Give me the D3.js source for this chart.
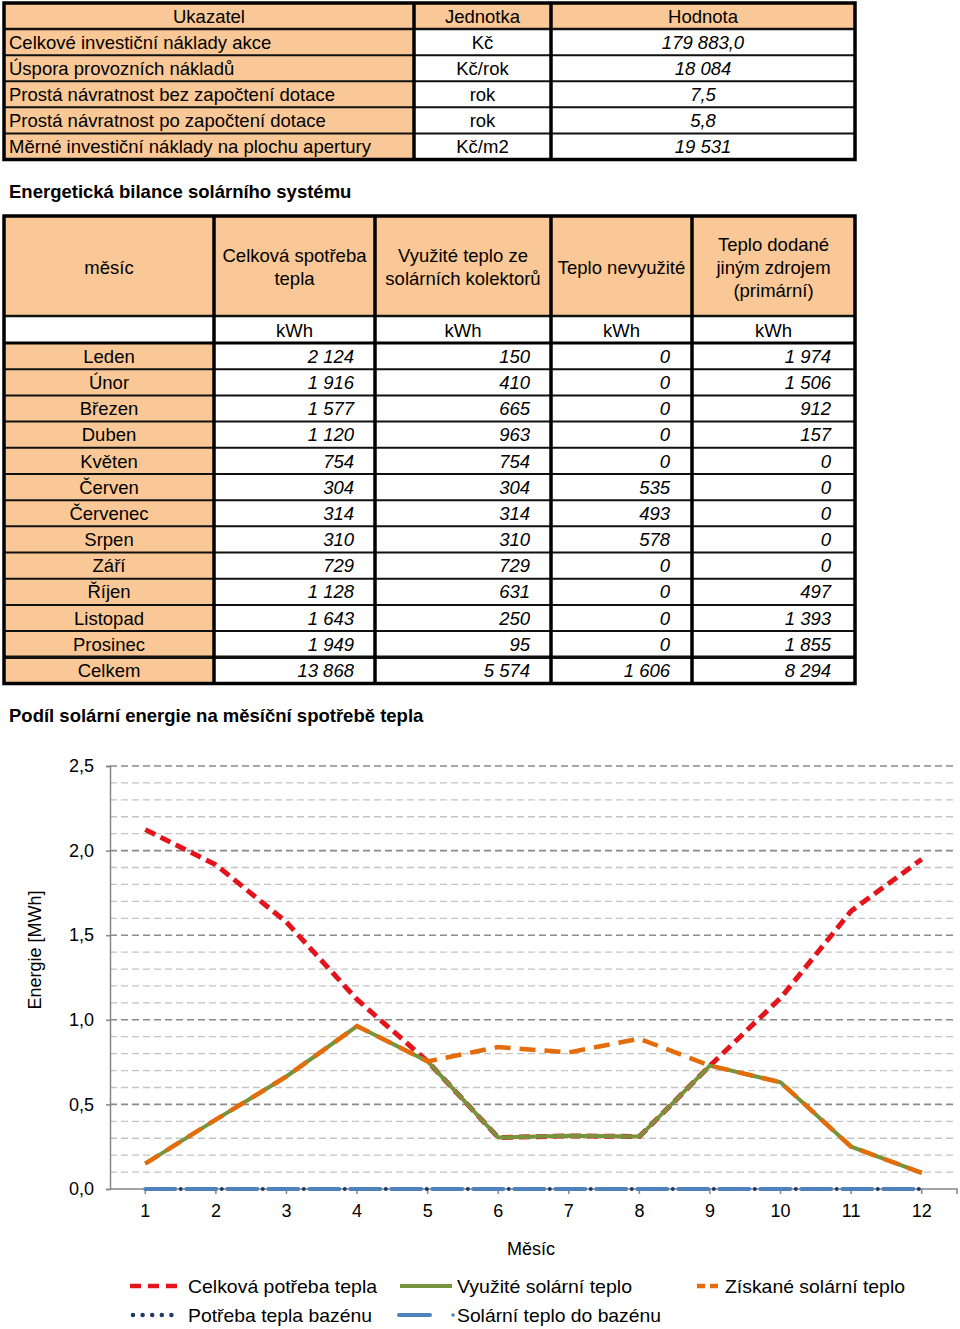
<!DOCTYPE html>
<html><head><meta charset="utf-8">
<script src="https://cdn.jsdelivr.net/npm/d3@7"></script>
<style>
body{margin:0;background:#fff}
svg{display:block}
text{font-family:"Liberation Sans",Arial,Helvetica,sans-serif;fill:#000}
</style>
</head><body>
<svg id="c" width="960" height="1329"></svg>
<script>
// ---------- DATA ----------
const indicatorLabels = ["Celkové investiční náklady akce","Úspora provozních nákladů","Prostá návratnost bez započtení dotace","Prostá návratnost po započtení dotace","Měrné investiční náklady na plochu apertury"];
const indicatorUnits = ["Kč","Kč/rok","rok","rok","Kč/m2"];
const indicatorValues = ["179 883,0","18 084","7,5","5,8","19 531"];
const table1Headers = ["Ukazatel","Jednotka","Hodnota"];

const monthNames = ["Leden","Únor","Březen","Duben","Květen","Červen","Červenec","Srpen","Září","Říjen","Listopad","Prosinec"];
const monthNumbers = [1,2,3,4,5,6,7,8,9,10,11,12];
const table2Headers = [["měsíc"],["Celková spotřeba","tepla"],["Využité teplo ze","solárních kolektorů"],["Teplo nevyužité"],["Teplo dodané","jiným zdrojem","(primární)"]];
const table2Units = ["","kWh","kWh","kWh","kWh"];
const totalConsumption = [2124,1916,1577,1120,754,304,314,310,729,1128,1643,1949];
const usedSolar = [150,410,665,963,754,304,314,310,729,631,250,95];
const unusedHeat = [0,0,0,0,0,535,493,578,0,0,0,0];
const otherSource = [1974,1506,912,157,0,0,0,0,0,497,1393,1855];
const totalsLabel = "Celkem";
const totals = [13868,5574,1606,8294];

// chart series (kWh)
const gainedSolar = [150,410,665,963,754,839,807,888,729,631,250,95];
const poolDemand = [0,0,0,0,0,0,0,0,0,0,0,0];
const poolSolar = [0,0,0,0,0,0,0,0,0,0,0,0];
const yTicks = [0,0.5,1.0,1.5,2.0,2.5];
const seriesNames = ["Celková potřeba tepla","Využité solární teplo","Získané solární teplo","Potřeba tepla bazénu","Solární teplo do bazénu"];

const title2 = "Energetická bilance solárního systému";
const title3 = "Podíl solární energie na měsíční spotřebě tepla";
const xTitle = "Měsíc";
const yTitle = "Energie [MWh]";

// ---------- HELPERS ----------
const cz = d3.formatLocale({decimal:",", thousands:" ", grouping:[3], currency:["","Kč"]});
const fmtInt = cz.format(",d");
const fmtDec = cz.format(",.1f");
const PEACH = "#FAC896";
const svg = d3.select("#c");
const FS = 18.5;

// ---------- TABLE 1 ----------
{
  const cols = [4,414,551,855];
  const ry = d3.scaleLinear().domain([0,6]).range([3,159.5]);
  const g = svg.append("g");
  d3.range(6).forEach(r=>{
    for(let c=0;c<3;c++){
      g.append("rect").attr("x",cols[c]).attr("y",ry(r)).attr("width",cols[c+1]-cols[c]).attr("height",ry(r+1)-ry(r))
        .attr("fill",(r===0||c===0)?PEACH:"#fff");
    }
  });
  table1Headers.forEach((h,c)=>{
    g.append("text").attr("x",(cols[c]+cols[c+1])/2).attr("y",(ry(0)+ry(1))/2).attr("dy","0.36em")
      .attr("text-anchor","middle").style("font-size",FS+"px").text(h);
  });
  indicatorLabels.forEach((t,i)=>{
    const cy=(ry(i+1)+ry(i+2))/2;
    g.append("text").attr("x",9).attr("y",cy).attr("dy","0.36em").style("font-size",FS+"px").text(t);
    g.append("text").attr("x",(cols[1]+cols[2])/2).attr("y",cy).attr("dy","0.36em").attr("text-anchor","middle").style("font-size",FS+"px").text(indicatorUnits[i]);
    g.append("text").attr("x",(cols[2]+cols[3])/2).attr("y",cy).attr("dy","0.36em").attr("text-anchor","middle").style("font-size",FS+"px").style("font-style","italic").text(indicatorValues[i]);
  });
  d3.range(1,6).forEach(r=>{
    g.append("line").attr("x1",cols[0]).attr("x2",cols[3]).attr("y1",ry(r)).attr("y2",ry(r)).attr("stroke","#111").attr("stroke-width",r===1?2.5:2);
  });
  cols.slice(1,3).forEach(x=>{
    g.append("line").attr("x1",x).attr("x2",x).attr("y1",ry(0)).attr("y2",ry(6)).attr("stroke","#000").attr("stroke-width",3.5);
  });
  g.append("rect").attr("x",cols[0]).attr("y",ry(0)).attr("width",cols[3]-cols[0]).attr("height",ry(6)-ry(0))
    .attr("fill","none").attr("stroke","#000").attr("stroke-width",3.5);
}

// ---------- TITLE 2 ----------
svg.append("text").attr("x",9).attr("y",191).attr("dy","0.36em").style("font-size","18.5px").style("font-weight","bold").text(title2);

// ---------- TABLE 2 ----------
{
  const cols = [4,214,375,551,692,855];
  const top = 216, hdrBottom = 316, unitBottom = 343;
  const ry = d3.scaleLinear().domain([0,13]).range([unitBottom,683.5]);
  const g = svg.append("g");
  g.append("rect").attr("x",cols[0]).attr("y",top).attr("width",cols[5]-cols[0]).attr("height",hdrBottom-top).attr("fill",PEACH);
  g.append("rect").attr("x",cols[0]).attr("y",hdrBottom).attr("width",cols[5]-cols[0]).attr("height",unitBottom-hdrBottom).attr("fill","#fff");
  d3.range(13).forEach(r=>{
    g.append("rect").attr("x",cols[0]).attr("y",ry(r)).attr("width",cols[1]-cols[0]).attr("height",ry(r+1)-ry(r)).attr("fill",PEACH);
    g.append("rect").attr("x",cols[1]).attr("y",ry(r)).attr("width",cols[5]-cols[1]).attr("height",ry(r+1)-ry(r)).attr("fill","#fff");
  });
  const hc = (top+hdrBottom)/2 + 1;
  table2Headers.forEach((lines,c)=>{
    const n=lines.length, lh=23;
    lines.forEach((l,k)=>{
      g.append("text").attr("x",(cols[c]+cols[c+1])/2).attr("y",hc+(k-(n-1)/2)*lh).attr("dy","0.36em")
        .attr("text-anchor","middle").style("font-size",FS+"px").text(l);
    });
    g.append("text").attr("x",(cols[c]+cols[c+1])/2).attr("y",(hdrBottom+unitBottom)/2+1).attr("dy","0.36em")
      .attr("text-anchor","middle").style("font-size",FS+"px").text(table2Units[c]);
  });
  const colsData = [totalConsumption, usedSolar, unusedHeat, otherSource];
  const padR = [21,21,22,24];
  monthNames.concat([totalsLabel]).forEach((m,i)=>{
    const cy = (ry(i)+ry(i+1))/2;
    g.append("text").attr("x",(cols[0]+cols[1])/2).attr("y",cy).attr("dy","0.36em").attr("text-anchor","middle").style("font-size",FS+"px").text(m);
    colsData.forEach((arr,c)=>{
      const v = i<12 ? arr[i] : totals[c];
      g.append("text").attr("x",cols[c+2]-padR[c]).attr("y",cy).attr("dy","0.36em").attr("text-anchor","end")
        .style("font-size",FS+"px").style("font-style","italic").text(fmtInt(v));
    });
  });
  g.append("line").attr("x1",cols[0]).attr("x2",cols[5]).attr("y1",hdrBottom).attr("y2",hdrBottom).attr("stroke","#111").attr("stroke-width",2.5);
  g.append("line").attr("x1",cols[0]).attr("x2",cols[5]).attr("y1",unitBottom).attr("y2",unitBottom).attr("stroke","#000").attr("stroke-width",3);
  d3.range(1,13).forEach(r=>{
    g.append("line").attr("x1",cols[0]).attr("x2",cols[5]).attr("y1",ry(r)).attr("y2",ry(r)).attr("stroke","#111").attr("stroke-width",r===12?3.5:2);
  });
  cols.slice(1,5).forEach(x=>{
    g.append("line").attr("x1",x).attr("x2",x).attr("y1",top).attr("y2",ry(13)).attr("stroke","#000").attr("stroke-width",3.5);
  });
  g.append("rect").attr("x",cols[0]).attr("y",top).attr("width",cols[5]-cols[0]).attr("height",ry(13)-top)
    .attr("fill","none").attr("stroke","#000").attr("stroke-width",3.5);
}

// ---------- TITLE 3 ----------
svg.append("text").attr("x",9).attr("y",715).attr("dy","0.36em").style("font-size","18.5px").style("font-weight","bold").text(title3);

// ---------- CHART ----------
{
  const L=110, R=957, T=766, B=1189;
  const x = d3.scaleBand().domain(monthNumbers).range([L,R]);
  const cx = d => x(d)+x.bandwidth()/2;
  const y = d3.scaleLinear().domain([0,2.5]).range([B,T]);
  const g = svg.append("g");

  const minor = d3.range(1,26).map(i=>i/10);
  minor.forEach(v=>{
    const major = Math.abs(v*2-Math.round(v*2))<1e-6;
    g.append("line").attr("x1",L).attr("x2",R).attr("y1",y(v)).attr("y2",y(v))
      .attr("stroke",major?"#8a8a8a":"#c4c4c4").attr("stroke-width",major?1.6:1.3).attr("stroke-dasharray","7,4");
  });

  const yAxis = d3.axisLeft(y).tickValues(yTicks).tickSize(4).tickPadding(12).tickFormat(fmtDec);
  const ya = g.append("g").attr("transform",`translate(${L},0)`).call(yAxis);
  ya.select(".domain").attr("stroke","#868686").attr("stroke-width",1.5);
  ya.selectAll(".tick line").attr("stroke","#868686").attr("stroke-width",1.5);
  ya.selectAll(".tick text").style("font-size","18px").style("font-family","'Liberation Sans',Arial,sans-serif").attr("fill","#000");

  const xAxis = d3.axisBottom(x).tickSize(5).tickPadding(10);
  const xa = g.append("g").attr("transform",`translate(0,${B})`).call(xAxis);
  xa.select(".domain").attr("stroke","#868686").attr("stroke-width",1.5).attr("d",`M${L},0H${R}V5`);
  xa.selectAll(".tick line").attr("stroke","#868686").attr("stroke-width",1.5);
  xa.selectAll(".tick text").style("font-size","18px").style("font-family","'Liberation Sans',Arial,sans-serif").attr("fill","#000");

  g.append("text").attr("x",531).attr("y",1249).attr("dy","0.36em").attr("text-anchor","middle").style("font-size","18px").text(xTitle);
  g.append("text").attr("transform","translate(35,950) rotate(-90)").attr("dy","0.36em").attr("text-anchor","middle").style("font-size","18px").text(yTitle);

  const line = d3.line().x((d,i)=>cx(monthNumbers[i])).y(d=>y(d/1000));
  const plot = g.append("g");
  plot.append("path").datum(totalConsumption).attr("d",line).attr("fill","none").attr("stroke","#E3141B").attr("stroke-width",5).attr("stroke-dasharray","11,6");
  plot.append("path").datum(usedSolar).attr("d",line).attr("fill","none").attr("stroke","#77933C").attr("stroke-width",4);
  plot.append("path").datum(gainedSolar).attr("d",line).attr("fill","none").attr("stroke","#E46C0A").attr("stroke-width",4.5).attr("stroke-dasharray","16,9");
  plot.append("path").datum(poolDemand).attr("d",line).attr("fill","none").attr("stroke","#1F3864").attr("stroke-width",4).attr("stroke-linecap","round").attr("stroke-dasharray","0,41").attr("stroke-dashoffset",5.5);
  plot.append("path").datum(poolSolar).attr("d",line).attr("fill","none").attr("stroke","#4F81BD").attr("stroke-width",4).attr("stroke-linecap","round").attr("stroke-dasharray","30,11");

  const lg = svg.append("g");
  const r1=1286, r2=1315;
  lg.append("line").attr("x1",130).attr("x2",178).attr("y1",r1).attr("y2",r1).attr("stroke","#E3141B").attr("stroke-width",4.5).attr("stroke-dasharray","11,7");
  lg.append("line").attr("x1",400).attr("x2",452).attr("y1",r1).attr("y2",r1).attr("stroke","#77933C").attr("stroke-width",4);
  lg.append("line").attr("x1",697).attr("x2",718).attr("y1",r1).attr("y2",r1).attr("stroke","#E46C0A").attr("stroke-width",4.5).attr("stroke-dasharray","8,5");
  lg.append("line").attr("x1",133).attr("x2",181).attr("y1",r2).attr("y2",r2).attr("stroke","#1F3864").attr("stroke-width",4.5).attr("stroke-linecap","round").attr("stroke-dasharray","0,9.6");
  lg.append("line").attr("x1",399).attr("x2",430).attr("y1",r2).attr("y2",r2).attr("stroke","#4F81BD").attr("stroke-width",4).attr("stroke-linecap","round");
  lg.append("circle").attr("cx",453).attr("cy",r2).attr("r",1.8).attr("fill","#4F81BD");
  const legendPos = [[188,r1,189],[457,r1,175],[725,r1,180],[188,r2,184],[457,r2,204]];
  seriesNames.forEach((n,i)=>{
    lg.append("text").attr("x",legendPos[i][0]).attr("y",legendPos[i][1]).attr("dy","0.36em")
      .attr("textLength",legendPos[i][2]).attr("lengthAdjust","spacingAndGlyphs")
      .style("font-size","19px").attr("fill","#222").text(n);
  });
}
</script>
</body></html>
